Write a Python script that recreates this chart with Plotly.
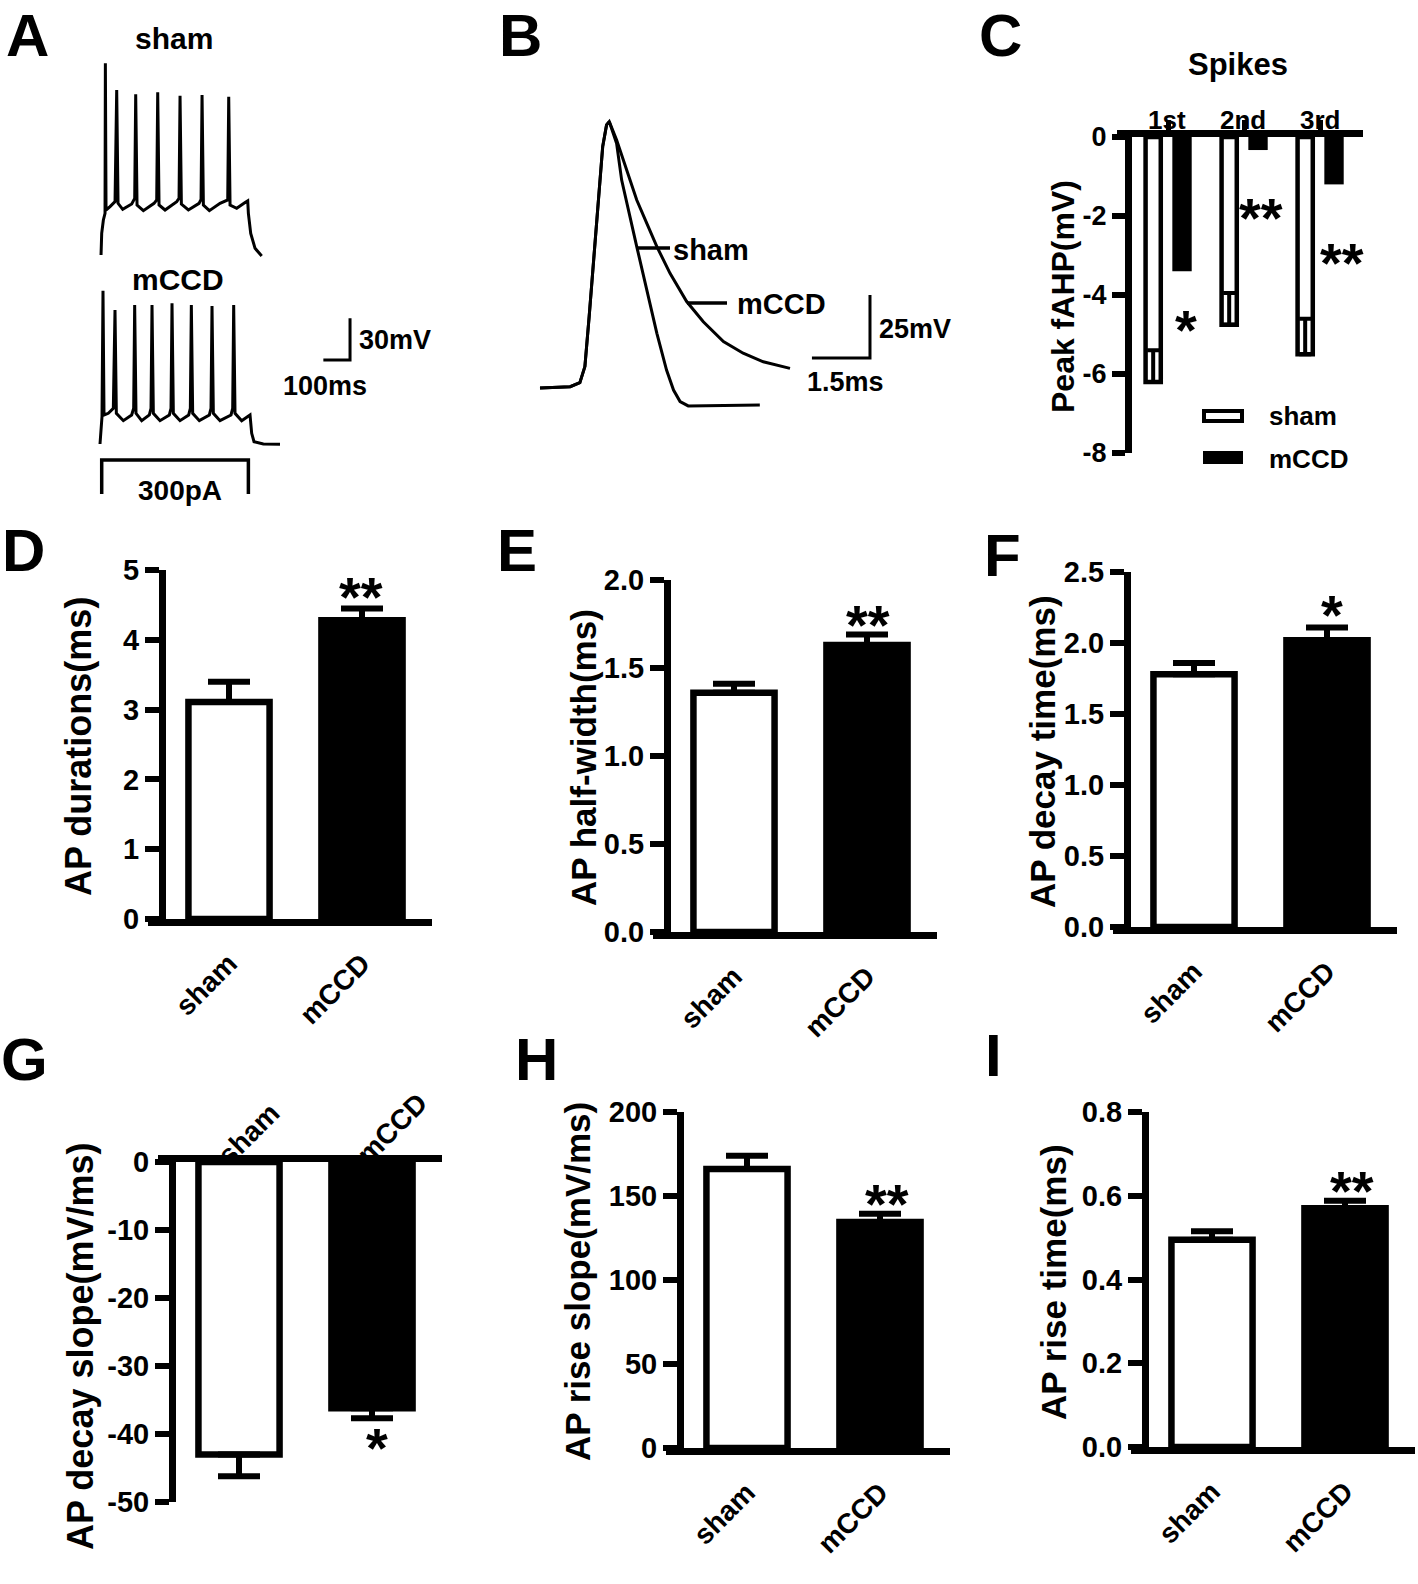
import plotly.graph_objects as go

W, H = 1418, 1584
FONT = "Liberation Sans, Arial, sans-serif"
INK = "black"

GROUPS = ["sham", "mCCD"]
SPIKES = ["1st", "2nd", "3rd"]

# A: spike trains under a 300 pA step (ms, mV)
SHAM_TRAIN_T = [-2.5, 0, 6.25, 12.5, 13.75, 16.25, 31.25, 50, 56.25, 61.25, 78.75, 112.5,
                123.75, 127.5, 132.5, 156.25, 196.25, 206.25, 210, 215, 237.5, 281.25, 290,
                293.75, 298.75, 325, 365, 372.5, 376.25, 381.25, 403.75, 443.75, 472.5,
                476.25, 481.25, 506.25, 537.5, 547.5, 550, 558.75, 575, 600]
SHAM_TRAIN_V = [-65, -49.4, -39.8, -35, 73, -32.6, -30.2, -26.6, 53.8, -27.8, -32.1, -28.3,
                -24.2, 50.7, -29, -33.1, -27.8, -25.4, 52.1, -29, -32.6, -26.6, -24.2,
                49.7, -28.3, -32.6, -27.8, -24.9, 50.2, -29, -33.1, -27.8, -25.4,
                49, -29, -31.4, -27.3, -26.1, -35, -49.4, -60.2, -65.7]
MCCD_TRAIN_T = [0, 3.75, 7.5, 11.25, 15, 31.25, 50, 56.25, 61.25, 87.5, 118.75, 126.25, 130,
                135, 156.25, 185, 191.25, 195, 200, 225, 260, 266.25, 270, 275, 300, 332.5,
                338.75, 342.5, 347.5, 372.5, 410, 416.25, 420, 425, 450, 491.25, 497.5,
                501.25, 506.25, 531.25, 556.25, 562.5, 568.75, 577.5, 612.5, 675]
MCCD_TRAIN_V = [-65, -57.3, -45.3, 45.4, -44.1, -42.9, -39.3, 31.5, -42.9, -48.2, -44.1, -39.3,
                35.1, -42.9, -48.2, -44.1, -39.3, 35.1, -42.9, -48.2, -44.1, -39.3, 36.3,
                -42.9, -48.2, -44.1, -39.3, 35.1, -42.9, -48.2, -44.1, -39.3, 34.4, -42.9,
                -48.2, -44.1, -39.3, 35.1, -42.9, -48.2, -45.3, -44.1, -57.3, -63.3, -65, -65.2]
STEP_T = [0, 0, 550, 550]
STEP_PA = [0, 300, 300, 0]
A_SCALE = (100, 30)   # ms, mV

# B: averaged action potentials (ms, mV from baseline)
AP_RISE_T = [0, 0.78, 1.03, 1.16, 1.27, 1.40, 1.51, 1.62, 1.72, 1.79]
AP_RISE_V = [0, 0.5, 2.1, 8.5, 28.3, 53.4, 77.2, 95.8, 104.4, 105.7]
SHAM_DECAY_T = [1.98, 2.11, 2.50, 2.76, 3.02, 3.27, 3.45, 3.62, 3.83, 5.68]
SHAM_DECAY_V = [97.0, 82.5, 56.1, 38.9, 21.7, 7.1, -0.8, -5.4, -7.1, -6.7]
MCCD_DECAY_T = [1.98, 2.24, 2.50, 2.76, 3.02, 3.36, 3.79, 4.22, 4.74, 5.25, 5.77, 6.46]
MCCD_DECAY_V = [98.4, 86.5, 74.6, 65.3, 56.1, 45.5, 34.3, 26.3, 18.4, 13.8, 10.4, 7.8]
B_SCALE = (1.5, 25)   # ms, mV

# C: peak fAHP (mV)
FAHP_SHAM = [-6.2, -4.75, -5.5]
FAHP_SHAM_SEM = [0.8, 0.8, 0.9]
FAHP_MCCD = [-3.4, -0.33, -1.2]
FAHP_STARS = ["*", "**", "**"]

# D-I: mean and SEM, sham then mCCD
AP_DURATION = [3.11, 4.28]
AP_DURATION_SEM = [0.29, 0.17]
AP_HALF_WIDTH = [1.36, 1.63]
AP_HALF_WIDTH_SEM = [0.05, 0.06]
AP_DECAY_TIME = [1.78, 2.02]
AP_DECAY_TIME_SEM = [0.08, 0.09]
AP_DECAY_SLOPE = [-43.0, -36.2]
AP_DECAY_SLOPE_SEM = [3.2, 1.5]
AP_RISE_SLOPE = [166.0, 134.5]
AP_RISE_SLOPE_SEM = [8.0, 5.0]
AP_RISE_TIME = [0.495, 0.57]
AP_RISE_TIME_SEM = [0.02, 0.018]

fig = go.Figure()
axes = {}
notes = []
shapes = []


def fx(px):
    return px / W


def fy(py):
    return 1 - py / H


def axis_key(kind, n):
    return f"{kind}axis" + ("" if n == 1 else str(n))


def axis_ref(kind, n):
    return kind + ("" if n == 1 else str(n))


def label(x, y, s, size, xanchor="center", angle=0, yanchor="middle"):
    notes.append(dict(
        x=fx(x), y=fy(y), xref="paper", yref="paper", text=s, showarrow=False,
        xanchor=xanchor, yanchor=yanchor, textangle=angle,
        font=dict(family=FONT, size=size, color=INK, weight="bold"),
    ))


def star(x, y, s, size=56):
    # asterisks sit high in the text box, so drop the anchor a little
    label(x, y + 0.13 * size, s, size)


def trace_box(n, box, origin, scale):
    """Hidden axes for a recording.

    box is (left, right, top, bottom) in px, origin is ((px, py), (t0, v0)),
    scale is px per data unit along x and y.
    """
    (x0, x1, y0, y1), ((ox, oy), (t0, v0)), (sx, sy) = box, origin, scale
    axes[axis_key("x", n)] = dict(
        domain=[fx(x0), fx(x1)], range=[t0 + (x0 - ox) / sx, t0 + (x1 - ox) / sx],
        visible=False, anchor=axis_ref("y", n), fixedrange=True,
    )
    axes[axis_key("y", n)] = dict(
        domain=[fy(y1), fy(y0)], range=[v0 - (y1 - oy) / sy, v0 + (oy - y0) / sy],
        visible=False, anchor=axis_ref("x", n), fixedrange=True,
    )


def line(n, t, v, width=3):
    fig.add_trace(go.Scatter(
        x=t, y=v, mode="lines", line=dict(color=INK, width=width),
        xaxis=axis_ref("x", n), yaxis=axis_ref("y", n),
        showlegend=False, hoverinfo="skip",
    ))


def seg(x0, y0, x1, y1, width=3.5):
    shapes.append(dict(type="line", xref="paper", yref="paper",
                       x0=fx(x0), y0=fy(y0), x1=fx(x1), y1=fy(y1),
                       line=dict(color=INK, width=width)))


def bar_panel(n, means, sems, ax_px, top_px, bot_px, tickvals, ticktext, flip=False):
    xr, yr = axis_ref("x", n), axis_ref("y", n)
    fig.add_trace(go.Bar(
        x=[0, 1], y=means, width=0.61,
        marker=dict(color=["white", "black"], line=dict(color=INK, width=6.5)),
        error_y=dict(type="data", symmetric=False,
                     array=[0, 0] if flip else sems,
                     arrayminus=sems if flip else [0, 0],
                     color=INK, thickness=6, width=21),
        xaxis=xr, yaxis=yr, showlegend=False, hoverinfo="skip",
    ))
    axes[axis_key("x", n)] = dict(
        domain=[fx(ax_px - 14), fx(ax_px + 270)], range=[-81 / 133, 203 / 133],
        anchor=yr, side="top" if flip else "bottom",
        tickvals=[0, 1], ticktext=GROUPS, tickangle=-45, showticklabels=not flip,
        ticks="outside", ticklen=10, tickcolor="rgba(0,0,0,0)",
        tickfont=dict(family=FONT, size=28, color=INK, weight="bold"),
        showline=True, linecolor=INK, linewidth=7, automargin=False,
        showgrid=False, zeroline=False, fixedrange=True,
    )
    axes[axis_key("y", n)] = dict(
        domain=[fy(bot_px), fy(top_px)], range=[tickvals[0], tickvals[-1]],
        anchor="free", position=fx(ax_px),
        tickvals=tickvals, ticktext=ticktext,
        ticks="outside", ticklen=14, tickwidth=6, tickcolor=INK,
        tickfont=dict(family=FONT, size=29, color=INK, weight="bold"),
        showline=True, linecolor=INK, linewidth=7, automargin=False,
        showgrid=False, zeroline=False, fixedrange=True,
    )


# ---- A: spike trains ----
trace_box(1, (80, 300, 50, 270), ((101.7, 255), (0, -65)), (0.2667, 1.389))
line(1, SHAM_TRAIN_T, SHAM_TRAIN_V)
trace_box(2, (80, 470, 280, 470), ((100, 444), (0, -65)), (0.2667, 1.389))
line(2, MCCD_TRAIN_T, MCCD_TRAIN_V)
corner_t, corner_v = 937.5, -4.5
line(2, [corner_t - A_SCALE[0], corner_t, corner_t],
     [corner_v, corner_v, corner_v + A_SCALE[1]])
trace_box(3, (80, 300, 440, 500), ((101.7, 494), (0, 0)), (0.2667, 34 / 300))
line(3, STEP_T, STEP_PA, width=3.5)

label(27, 0, "A", 60, yanchor="top")
label(174, 38, "sham", 30)
label(178, 279, "mCCD", 30)
label(357, 340, "30mV", 27, xanchor="left")
label(325, 386, "100ms", 27)
label(180, 490, "300pA", 28)

# ---- B: action potential waveforms ----
trace_box(4, (500, 960, 80, 440), ((540, 388), (0, 0)), (38.7, 2.52))
line(4, AP_RISE_T + SHAM_DECAY_T, AP_RISE_V + SHAM_DECAY_V)
line(4, AP_RISE_T + MCCD_DECAY_T, AP_RISE_V + MCCD_DECAY_V)
corner_t, corner_v = 8.527, 11.9
line(4, [corner_t - B_SCALE[0], corner_t, corner_t],
     [corner_v, corner_v, corner_v + B_SCALE[1]])
seg(637, 248, 670, 248)
seg(687, 303, 727, 303)

label(520, 0, "B", 60, yanchor="top")
label(671, 250, "sham", 29, xanchor="left")
label(735, 304, "mCCD", 29, xanchor="left")
label(877, 329, "25mV", 27, xanchor="left")
label(805, 382, "1.5ms", 27, xanchor="left")

# ---- C: peak fAHP ----
fig.add_trace(go.Bar(
    x=[0, 1, 2], y=FAHP_SHAM, width=0.2, offset=-0.295,
    marker=dict(color="white", line=dict(color=INK, width=4.5)),
    error_y=dict(type="data", symmetric=False, array=FAHP_SHAM_SEM, arrayminus=[0, 0, 0],
                 color=INK, thickness=4, width=6),
    xaxis="x5", yaxis="y5", showlegend=False, hoverinfo="skip",
))
fig.add_trace(go.Bar(
    x=[0, 1, 2], y=FAHP_MCCD, width=0.255, offset=0.057,
    marker=dict(color="black", line=dict(color=INK, width=0)),
    xaxis="x5", yaxis="y5", showlegend=False, hoverinfo="skip",
))
axes["xaxis5"] = dict(
    domain=[fx(1117), fx(1363)], range=[-51 / 76, 195 / 76], anchor="y5", side="top",
    tickvals=[0, 1, 2], showticklabels=False, ticks="outside", ticklen=10, tickwidth=5,
    tickcolor=INK, showline=True, linecolor=INK, linewidth=7, showgrid=False,
    zeroline=False, automargin=False, fixedrange=True,
)
axes["yaxis5"] = dict(
    domain=[fy(453), fy(137)], range=[-8, 0], anchor="free", position=fx(1128),
    tickvals=[-8, -6, -4, -2, 0], ticktext=["-8", "-6", "-4", "-2", "0"],
    ticks="outside", ticklen=13, tickwidth=6, tickcolor=INK,
    tickfont=dict(family=FONT, size=27, color=INK, weight="bold"),
    showline=True, linecolor=INK, linewidth=7, showgrid=False, zeroline=False,
    automargin=False, fixedrange=True,
)
# spike names sit right on top of their tick marks
for cx, s in zip([1167, 1243, 1320], SPIKES):
    label(cx, 120, s, 26)
for (sx, sy), s in zip([(1186, 322), (1261, 210), (1342, 255)], FAHP_STARS):
    star(sx, sy, s)
shapes.append(dict(type="rect", xref="paper", yref="paper", x0=fx(1204), x1=fx(1242),
                   y0=fy(421), y1=fy(411), fillcolor="white", line=dict(color=INK, width=4)))
shapes.append(dict(type="rect", xref="paper", yref="paper", x0=fx(1203), x1=fx(1243),
                   y0=fy(464), y1=fy(451), fillcolor=INK, line=dict(color=INK, width=0)))
label(1000, 0, "C", 60, yanchor="top")
label(1238, 64, "Spikes", 31)
label(1267, 416, "sham", 26, xanchor="left")
label(1267, 459, "mCCD", 26, xanchor="left")
label(1063, 297, "Peak fAHP(mV)", 32, angle=-90)

# ---- D-I: summary bars ----
bar_panel(6, AP_DURATION, AP_DURATION_SEM, 162, 570, 919,
          [0, 1, 2, 3, 4, 5], ["0", "1", "2", "3", "4", "5"])
bar_panel(7, AP_HALF_WIDTH, AP_HALF_WIDTH_SEM, 667, 580, 932,
          [0, 0.5, 1, 1.5, 2], ["0.0", "0.5", "1.0", "1.5", "2.0"])
bar_panel(8, AP_DECAY_TIME, AP_DECAY_TIME_SEM, 1127, 572, 927,
          [0, 0.5, 1, 1.5, 2, 2.5], ["0.0", "0.5", "1.0", "1.5", "2.0", "2.5"])
bar_panel(9, AP_DECAY_SLOPE, AP_DECAY_SLOPE_SEM, 172, 1162, 1502,
          [-50, -40, -30, -20, -10, 0], ["-50", "-40", "-30", "-20", "-10", "0"], flip=True)
bar_panel(10, AP_RISE_SLOPE, AP_RISE_SLOPE_SEM, 680, 1112, 1448,
          [0, 50, 100, 150, 200], ["0", "50", "100", "150", "200"])
bar_panel(11, AP_RISE_TIME, AP_RISE_TIME_SEM, 1145, 1112, 1447,
          [0, 0.2, 0.4, 0.6, 0.8], ["0.0", "0.2", "0.4", "0.6", "0.8"])

# G has its group names sitting on top of the zero line
label(248, 1134, GROUPS[0], 28, angle=-45)
label(392, 1128, GROUPS[1], 28, angle=-45)

label(23, 550, "D", 60)
label(517, 550, "E", 60)
label(1002, 555, "F", 60)
label(24, 1059, "G", 60)
label(536, 1059, "H", 60)
label(993, 1055, "I", 60)

label(78, 747, "AP durations(ms)", 36, angle=-90)
label(583, 758, "AP half-width(ms)", 35, angle=-90)
label(1043, 752, "AP decay time(ms)", 35, angle=-90)
label(80, 1346, "AP decay slope(mV/ms)", 36, angle=-90)
label(577, 1282, "AP rise slope(mV/ms)", 35, angle=-90)
label(1053, 1282, "AP rise time(ms)", 35, angle=-90)

star(361, 589, "**")
star(868, 617, "**")
star(1332, 607, "*")
star(377, 1440, "*")
star(887, 1196, "**")
star(1352, 1183, "**")

fig.update_layout(
    width=W, height=H, autosize=False,
    margin=dict(l=0, r=0, t=0, b=0, pad=0, autoexpand=False),
    paper_bgcolor="white", plot_bgcolor="rgba(0,0,0,0)",
    font=dict(family=FONT, color=INK, weight="bold"),
    barmode="overlay", showlegend=False,
    annotations=notes, shapes=shapes,
    **axes,
)

# drop the default body margin so the page is exactly the figure
PIN = ("document.body.style.margin='0';"
       "var g=document.getElementById('{plot_id}');"
       "g.style.position='absolute';g.style.left='0px';g.style.top='0px';")
fig.write_html("out.html", config={"displayModeBar": False}, post_script=PIN)
